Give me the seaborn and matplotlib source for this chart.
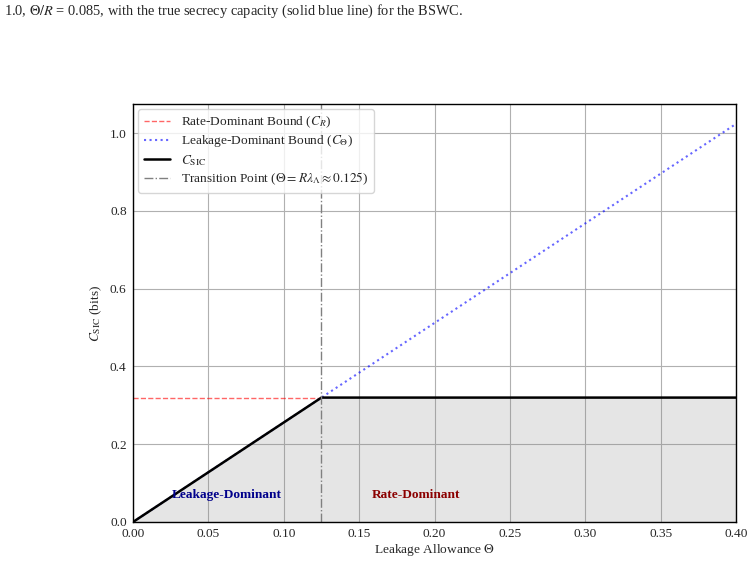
import numpy as np
import pandas as pd
import matplotlib
matplotlib.use("Agg")
import matplotlib.pyplot as plt
import seaborn as sns

# ---- data ----
theta_pts = [0.0, 0.125, 0.40]          # leakage allowance
c_theta = [0.0, 0.32, 1.024]            # leakage-dominant bound C_Theta
c_r_theta = [0.0, 0.125]                # span of rate bound drawn
c_r = [0.32, 0.32]                      # rate-dominant bound C_R
c_sic = [0.0, 0.32, 0.32]               # C_SIC
transition = 0.125
xticks = [0.00, 0.05, 0.10, 0.15, 0.20, 0.25, 0.30, 0.35, 0.40]
yticks = [0.0, 0.2, 0.4, 0.6, 0.8, 1.0]

sns.set_style("white")
plt.rcParams["font.family"] = ["Liberation Serif", "DejaVu Serif"]
plt.rcParams["mathtext.fontset"] = "stix"
FS = 9.6
plt.rcParams["font.size"] = FS

fig = plt.figure(figsize=(7.54, 5.63), dpi=100)
ax = fig.add_axes([133/754, 1 - 522/563, (736-133)/754, (522-104)/563])

df_theta = pd.DataFrame({"x": theta_pts, "y": c_theta})
df_r = pd.DataFrame({"x": c_r_theta, "y": c_r})
df_sic = pd.DataFrame({"x": theta_pts, "y": c_sic})

sns.lineplot(data=df_r, x="x", y="y", ax=ax, color="red", alpha=0.6,
             linestyle="--", linewidth=1.0, label=r"Rate-Dominant Bound ($C_R$)")
sns.lineplot(data=df_theta, x="x", y="y", ax=ax, color="blue", alpha=0.6,
             linestyle=":", linewidth=1.5, label=r"Leakage-Dominant Bound ($C_\Theta$)")
sns.lineplot(data=df_sic, x="x", y="y", ax=ax, color="black",
             linewidth=1.8, label=r"$C_{\mathrm{SIC}}$")
ax.fill_between(theta_pts, 0, c_sic, color="gray", alpha=0.2, linewidth=0)
ax.axvline(transition, color="gray", linestyle="-.", linewidth=1.0,
           label=r"Transition Point ($\Theta = R\lambda_\Lambda \approx 0.125$)")

ax.text(0.0625, 0.07, "Leakage-Dominant", color="darkblue", fontweight="bold",
        ha="center", va="center", fontsize=FS)
ax.text(0.1875, 0.07, "Rate-Dominant", color="darkred", fontweight="bold",
        ha="center", va="center", fontsize=FS)

ax.set_xlim(0, 0.40)
ax.set_ylim(0, 1.024 * 1.05)
ax.set_xticks(xticks)
ax.set_yticks(yticks)
ax.set_xticklabels([f"{t:.2f}" for t in xticks])
ax.set_yticklabels([f"{t:.1f}" for t in yticks])
ax.grid(True, color="#b0b0b0", linewidth=0.8)
for s in ax.spines.values():
    s.set_color("black")
    s.set_linewidth(1.0)
ax.tick_params(axis="both", direction="out", length=3.5, width=0.8, color="black",
               labelsize=FS, pad=1.0)
ax.set_xlabel(r"Leakage Allowance $\Theta$", fontsize=FS, labelpad=1)
ax.set_ylabel(r"$C_{\mathrm{SIC}}$ (bits)", fontsize=FS, labelpad=4)
ax.legend(loc="upper left", fontsize=FS, frameon=True, framealpha=0.8,
          labelspacing=0.25, borderpad=0.4, handlelength=2.0, borderaxespad=0.4)

fig.text(4/754, 1 - 11/563,
         r"1.0, $\Theta/R$ = 0.085, with the true secrecy capacity (solid blue line) for the BSWC.",
         fontsize=10.4, ha="left", va="center")

fig.savefig("out.png", dpi=100)
